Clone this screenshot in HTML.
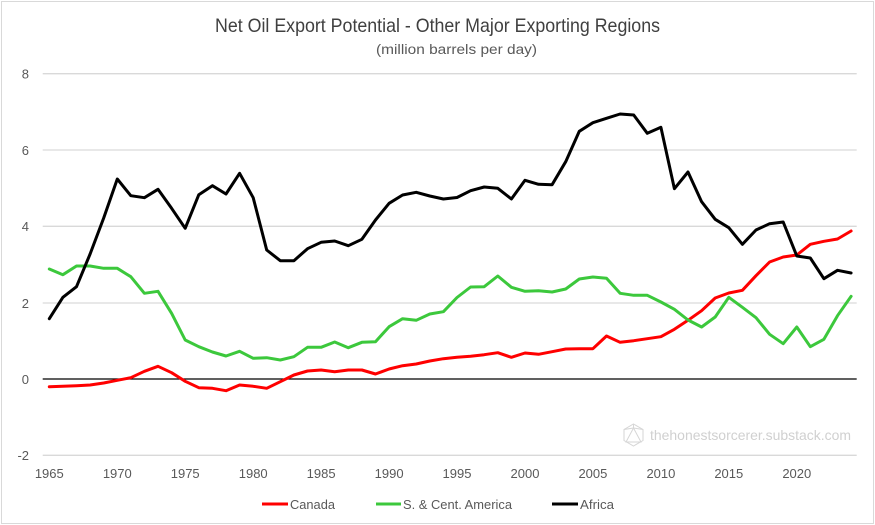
<!DOCTYPE html>
<html>
<head>
<meta charset="utf-8">
<style>
  html,body{margin:0;padding:0;background:#fff;}
  svg{display:block;}
  text{font-family:"Liberation Sans",sans-serif;}
</style>
</head>
<body>
<svg width="875" height="525" viewBox="0 0 875 525" xmlns="http://www.w3.org/2000/svg">
  <rect x="0" y="0" width="875" height="525" fill="#fff"/>
  <rect x="1.5" y="1.5" width="872" height="522" fill="none" stroke="#d9d9d9" stroke-width="1"/>

  <!-- Title -->
  <text x="437.5" y="32" font-size="19.5" fill="#404040" text-anchor="middle" textLength="445" lengthAdjust="spacingAndGlyphs">Net Oil Export Potential - Other Major Exporting Regions</text>
  <text x="456.5" y="54" font-size="13.5" fill="#595959" text-anchor="middle" textLength="161" lengthAdjust="spacingAndGlyphs">(million barrels per day)</text>

  <!-- Gridlines -->
  <g stroke="#d9d9d9" stroke-width="1.3">
    <line x1="42.7" y1="73.7" x2="856.7" y2="73.7"/>
    <line x1="42.7" y1="150" x2="856.7" y2="150"/>
    <line x1="42.7" y1="226.3" x2="856.7" y2="226.3"/>
    <line x1="42.7" y1="303" x2="856.7" y2="303"/>
    <line x1="42.7" y1="455.3" x2="856.7" y2="455.3"/>
  </g>
  <line x1="42.7" y1="379" x2="856.7" y2="379" stroke="#000" stroke-width="1.2"/>

  <!-- Y labels -->
  <g font-size="13" fill="#595959" text-anchor="end">
    <text x="29" y="78.5">8</text>
    <text x="29" y="155">6</text>
    <text x="29" y="231">4</text>
    <text x="29" y="308">2</text>
    <text x="29" y="384">0</text>
    <text x="29" y="460">-2</text>
  </g>

  <!-- X labels -->
  <g font-size="13" fill="#595959" text-anchor="middle">
    <text x="49.3" y="478">1965</text>
    <text x="117.3" y="478">1970</text>
    <text x="185.2" y="478">1975</text>
    <text x="253.2" y="478">1980</text>
    <text x="321.1" y="478">1985</text>
    <text x="389.1" y="478">1990</text>
    <text x="457.0" y="478">1995</text>
    <text x="525.0" y="478">2000</text>
    <text x="592.9" y="478">2005</text>
    <text x="660.9" y="478">2010</text>
    <text x="728.8" y="478">2015</text>
    <text x="796.8" y="478">2020</text>
  </g>

  <!-- Watermark -->
  <g stroke="#d6d6d6" stroke-width="1" fill="none">
    <polygon points="633.5,424 643,429.5 643,440.5 633.5,446 624,440.5 624,429.5"/>
    <polygon points="633.5,428 641,442 626,442"/>
    <line x1="633.5" y1="424" x2="633.5" y2="428"/>
    <line x1="624" y1="429.5" x2="633.5" y2="428"/>
    <line x1="643" y1="429.5" x2="633.5" y2="428"/>
  </g>
  <text x="650" y="440" font-size="14" fill="#d0d0d0" textLength="201" lengthAdjust="spacingAndGlyphs">thehonestsorcerer.substack.com</text>

  <!-- Series -->
  <g fill="none" stroke-width="3" stroke-linejoin="round" stroke-linecap="round">
    <polyline stroke="#ff0000" points="49.3,386.7 62.9,386.3 76.5,385.7 90.1,385 103.7,383 117.3,380.3 130.8,377.7 144.4,371.3 158.0,366.3 171.6,372.7 185.2,381.3 198.8,387.7 212.4,388.3 226.0,390.7 239.6,385 253.2,386.3 266.7,388.3 280.3,381.7 293.9,375 307.5,371 321.1,370 334.7,371.7 348.3,370 361.9,370 375.5,374 389.1,369 402.6,365.7 416.2,364 429.8,361 443.4,358.7 457.0,357.3 470.6,356.3 484.2,354.7 497.8,352.7 511.4,357.3 525.0,353 538.5,354.3 552.1,351.7 565.7,349 579.3,348.7 592.9,348.7 606.5,336 620.1,342.3 633.7,340.7 647.3,338.7 660.9,336.7 674.4,329.3 688.0,320.3 701.6,310.7 715.2,298 728.8,293 742.4,290.3 756.0,275.7 769.6,262 783.2,257 796.8,255 810.3,244.3 823.9,241.3 837.5,239 851.1,231"/>
    <polyline stroke="#3cc83c" points="49.3,269 62.9,274.7 76.5,266 90.1,266 103.7,268.3 117.3,268.3 130.8,276.7 144.4,293.3 158.0,291.3 171.6,313.3 185.2,340 198.8,346.7 212.4,352 226.0,356 239.6,351.3 253.2,358.3 266.7,357.7 280.3,360 293.9,356.7 307.5,347.3 321.1,347.3 334.7,342 348.3,347.7 361.9,342.3 375.5,341.7 389.1,326.7 402.6,318.7 416.2,320.3 429.8,314 443.4,311.7 457.0,297.5 470.6,287 484.2,286.7 497.8,276 511.4,287.3 525.0,291.3 538.5,290.7 552.1,292 565.7,289 579.3,279 592.9,277 606.5,278.3 620.1,293.3 633.7,295.3 647.3,295.3 660.9,302 674.4,309.3 688.0,320 701.6,327 715.2,317 728.8,297.3 742.4,307.3 756.0,317.7 769.6,334.3 783.2,343.7 796.8,327 810.3,346.7 823.9,339.3 837.5,315.7 851.1,296.3"/>
    <polyline stroke="#000000" points="49.3,318.7 62.9,297.3 76.5,286.7 90.1,254 103.7,218 117.3,179 130.8,195.7 144.4,197.7 158.0,189.3 171.6,208.3 185.2,228.3 198.8,194.7 212.4,185.7 226.0,194 239.6,173.3 253.2,197.7 266.7,250 280.3,260.7 293.9,260.7 307.5,248.7 321.1,242.3 334.7,241 348.3,245.7 361.9,239.3 375.5,220 389.1,203.3 402.6,195 416.2,192.3 429.8,196 443.4,199 457.0,197.5 470.6,190.7 484.2,187 497.8,188.3 511.4,199 525.0,180.3 538.5,184.3 552.1,184.7 565.7,161.7 579.3,131.3 592.9,122.7 606.5,118.3 620.1,114 633.7,115 647.3,133.3 660.9,127.3 674.4,188.7 688.0,172 701.6,201.7 715.2,219.3 728.8,227.7 742.4,244.3 756.0,230 769.6,223.7 783.2,222 796.8,256 810.3,258 823.9,278.7 837.5,270.3 851.1,273"/>
  </g>

  <!-- Legend -->
  <g stroke-width="3">
    <line x1="262" y1="504" x2="288" y2="504" stroke="#ff0000"/>
    <line x1="376" y1="504" x2="401" y2="504" stroke="#3cc83c"/>
    <line x1="552" y1="504" x2="578" y2="504" stroke="#000"/>
  </g>
  <g font-size="13" fill="#595959">
    <text x="290" y="509" textLength="45" lengthAdjust="spacingAndGlyphs">Canada</text>
    <text x="403" y="509" textLength="109" lengthAdjust="spacingAndGlyphs">S. &amp; Cent. America</text>
    <text x="580" y="509" textLength="34" lengthAdjust="spacingAndGlyphs">Africa</text>
  </g>
</svg>
</body>
</html>
